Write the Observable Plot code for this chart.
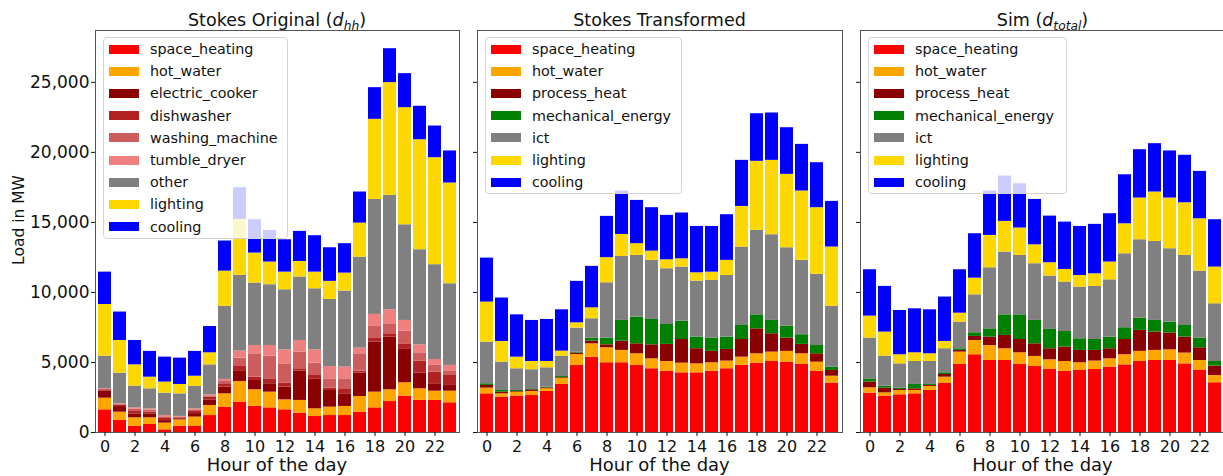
<!DOCTYPE html>
<html><head><meta charset="utf-8">
<script src="https://cdn.jsdelivr.net/npm/d3@7"></script>
<script src="https://cdn.jsdelivr.net/npm/@observablehq/plot@0.6"></script>
<style>
body{margin:0;overflow:hidden;background:#fff;font-family:"DejaVu Sans",sans-serif;color:#111;}
#wrap{position:relative;width:1223px;height:476px;overflow:hidden;background:#fff;}
.panel{position:absolute;top:0;}
.title{position:absolute;top:9px;font-size:17.5px;line-height:22px;text-align:center;white-space:nowrap;}
.title sub{font-size:70%;vertical-align:-0.3em;line-height:0;}
.xlabel{position:absolute;top:457px;height:16px;font-size:18px;line-height:16px;text-align:center;white-space:nowrap;}
.ylabel{position:absolute;left:-81px;top:209px;width:200px;height:22px;line-height:22px;font-size:15.5px;text-align:center;transform:rotate(-90deg);white-space:nowrap;}
.legend{position:absolute;top:37px;background:rgba(255,255,255,0.8);border:1px solid #d4d4d4;border-radius:4px;box-sizing:border-box;}
.sw{position:absolute;left:5px;width:30px;height:9px;}
.lt{position:absolute;left:46px;font-size:14.3px;line-height:18px;white-space:nowrap;}
</style>
</head><body>
<div id="wrap"></div>
<script>
// ---------- data ----------
const hours = d3.range(24);
const tickHours = d3.range(0, 24, 2);
const yTicks = [0, 5000, 10000, 15000, 20000, 25000];

// Panel 1: Stokes Original (d_hh)
const cats1 = ["space_heating","hot_water","electric_cooker","dishwasher","washing_machine","tumble_dryer","other","lighting","cooling"];
const colors1 = ["#ff0000","#ffa500","#8b0000","#b22222","#cd5c5c","#f08080","#808080","#ffd700","#0000ff"];
const p1_space_heating = [1620,860,430,570,190,450,430,1210,1810,2170,1860,1760,1620,1380,1140,1210,1210,1450,1760,2210,2600,2290,2290,2120];
const p1_hot_water = [830,590,620,480,480,450,670,720,950,1470,1190,1120,710,910,550,600,650,1120,1120,840,950,830,660,830];
const p1_electric_cooker = [500,400,280,250,180,80,250,370,480,720,660,600,910,2090,2140,1190,900,1670,3570,3760,2430,1120,530,410];
const p1_dishwasher = [100,100,170,150,150,70,150,220,240,350,240,350,280,170,240,170,310,140,310,240,350,860,830,760];
const p1_washing_machine = [50,70,180,150,120,50,120,100,160,600,1670,1620,1380,1190,880,660,760,1240,810,710,910,590,480,240];
const p1_tumble_dryer = [20,30,80,90,90,50,70,70,150,500,590,760,1000,830,950,880,840,400,860,1000,760,570,420,430];
const p1_other = [2330,2190,1550,1430,1600,1610,1600,2140,5210,5400,4460,4340,4290,4530,4360,4790,5430,6500,8210,8170,6830,6790,6770,5830];
const p1_lighting = [3690,2330,1520,830,790,670,730,860,2520,4000,2140,1620,1260,1110,1190,1290,1280,2430,5720,8050,8360,7850,7640,7190];
const p1_cooling = [2310,2030,1740,1840,1780,1880,1770,1880,2150,2270,2380,2260,2310,2150,2600,2400,2100,2220,2260,2420,2430,2390,2260,2290];

// Panels 2 and 3 categories
const cats2 = ["space_heating","hot_water","process_heat","mechanical_energy","ict","lighting","cooling"];
const colors2 = ["#ff0000","#ffa500","#8b0000","#008000","#808080","#ffd700","#0000ff"];

// Panel 2: Stokes Transformed
const p2_space_heating = [2760,2520,2600,2640,2930,3430,4790,5380,4980,4980,4790,4550,4360,4260,4260,4360,4550,4790,4950,5070,5020,4860,4360,3520];
const p2_hot_water = [410,240,280,290,190,450,780,950,1070,880,830,710,710,690,640,620,550,590,670,670,770,760,660,500];
const p2_process_heat = [190,120,50,120,70,50,100,190,210,660,710,1000,1220,1690,1080,810,830,1260,1780,1310,950,670,600,410];
const p2_mechanical_energy = [120,120,70,70,50,70,70,220,480,1480,1910,1810,1420,1310,830,950,880,1000,1000,950,860,690,590,240];
const p2_ict = [2970,2020,1550,1360,1380,1450,1710,1380,3950,4570,4400,4220,3980,3860,4000,4120,4400,5600,6030,6120,5590,5310,5080,4330];
const p2_lighting = [2860,1480,830,590,450,360,380,780,1790,1570,840,660,640,590,590,590,1080,2900,4930,5310,5240,4950,4760,4240];
const p2_cooling = [3140,3100,3020,2930,3000,2950,2960,2960,2950,3100,3090,3100,3170,3270,3310,3260,3260,3290,3400,3380,3330,3330,3210,3260];

// Panel 3: Sim (d_total)
const p3_space_heating = [2810,2600,2690,2760,3000,3520,4860,5550,5140,5140,4860,4710,4500,4360,4430,4500,4670,4830,5070,5140,5140,4900,4430,3550];
const p3_hot_water = [380,230,310,240,290,430,880,1020,1070,840,830,720,690,710,550,600,590,720,720,720,760,770,710,520];
const p3_process_heat = [410,340,70,120,70,190,120,290,600,950,950,900,790,1030,880,760,720,1090,1500,1310,1200,1140,910,670];
const p3_mechanical_energy = [190,140,100,310,70,120,120,260,590,1470,1760,1670,1380,1110,830,780,830,840,880,830,780,830,690,330];
const p3_ict = [2950,2140,1730,1640,1640,1720,1900,2710,4360,4480,4240,4050,3810,3530,3690,3790,4090,5280,5590,5640,5240,5000,4780,4120];
const p3_lighting = [1570,1720,650,620,550,520,640,1190,2310,2190,1960,1350,950,900,830,900,1270,2140,2980,3530,3620,3760,3740,2620];
const p3_cooling = [3310,3260,3160,3140,3140,3170,3100,3170,3170,3240,3160,3240,3330,3380,3500,3530,3450,3500,3450,3450,3360,3390,3380,3380];

const panels = [
  {title: 'Stokes Original (<i>d<sub>hh</sub></i>)', cats: cats1, colors: colors1,
   series: [p1_space_heating,p1_hot_water,p1_electric_cooker,p1_dishwasher,p1_washing_machine,p1_tumble_dryer,p1_other,p1_lighting,p1_cooling],
   left: 0, width: 461, marginLeft: 95, showY: true, legendWidth: 185},
  {title: 'Stokes Transformed', cats: cats2, colors: colors2,
   series: [p2_space_heating,p2_hot_water,p2_process_heat,p2_mechanical_energy,p2_ict,p2_lighting,p2_cooling],
   left: 467, width: 377, marginLeft: 10, showY: false, legendWidth: 197},
  {title: 'Sim (<i>d<sub>total</sub></i>)', cats: cats2, colors: colors2,
   series: [p3_space_heating,p3_hot_water,p3_process_heat,p3_mechanical_energy,p3_ict,p3_lighting,p3_cooling],
   left: 850, width: 377, marginLeft: 10, showY: false, legendWidth: 199}
];

const wrap = document.getElementById("wrap");
const MR = 2;

panels.forEach(p => {
  const data = [];
  hours.forEach((h, i) => p.cats.forEach((c, j) => data.push({hour: h, cat: c, value: p.series[j][i]})));
  const chart = Plot.plot({
    width: p.width, height: 476,
    marginLeft: p.marginLeft, marginRight: MR, marginTop: 30, marginBottom: 44,
    style: {fontFamily: '"DejaVu Sans", sans-serif', fontSize: "16px", color: "#111", background: "transparent", overflow: "visible"},
    x: {type: "band", domain: hours, paddingInner: 0.12, paddingOuter: 0.06, label: null},
    y: {domain: [0, 28700], label: null},
    color: {domain: p.cats, range: p.colors},
    marks: [
      Plot.barY(data, {x: "hour", y: "value", fill: "cat", order: p.cats}),
      Plot.frame({stroke: "#555", strokeWidth: 1}),
      Plot.axisX({ticks: tickHours, tickSize: 4, tickPadding: 4, label: null, fontSize: 16}),
      Plot.axisY({ticks: yTicks, tickSize: 4, tickPadding: 2, label: null, fontSize: 17,
                  tickFormat: p.showY ? d3.format(",") : () => ""})
    ]
  });
  chart.classList.add("panel");
  chart.style.left = p.left + "px";
  wrap.appendChild(chart);

  const fx = p.left + p.marginLeft;
  const fw = p.width - p.marginLeft - MR;

  const t = document.createElement("div");
  t.className = "title";
  t.style.left = fx + "px"; t.style.width = fw + "px";
  t.innerHTML = p.title;
  wrap.appendChild(t);

  const xl = document.createElement("div");
  xl.className = "xlabel";
  xl.style.left = fx + "px"; xl.style.width = fw + "px";
  xl.textContent = "Hour of the day";
  wrap.appendChild(xl);

  const lg = document.createElement("div");
  lg.className = "legend";
  lg.style.left = (fx + 8) + "px";
  lg.style.width = p.legendWidth + "px";
  lg.style.height = (24 + (p.cats.length - 1) * 22.2) + "px";
  p.cats.forEach((c, j) => {
    const cy = 11 + j * 22.2;
    const sw = document.createElement("div");
    sw.className = "sw";
    sw.style.top = (cy - 4.5) + "px";
    sw.style.background = p.colors[j];
    lg.appendChild(sw);
    const lt = document.createElement("div");
    lt.className = "lt";
    lt.style.top = (cy - 9) + "px";
    lt.textContent = c;
    lg.appendChild(lt);
  });
  wrap.appendChild(lg);
});

const yl = document.createElement("div");
yl.className = "ylabel";
yl.textContent = "Load in MW";
wrap.appendChild(yl);
</script>
</body></html>
